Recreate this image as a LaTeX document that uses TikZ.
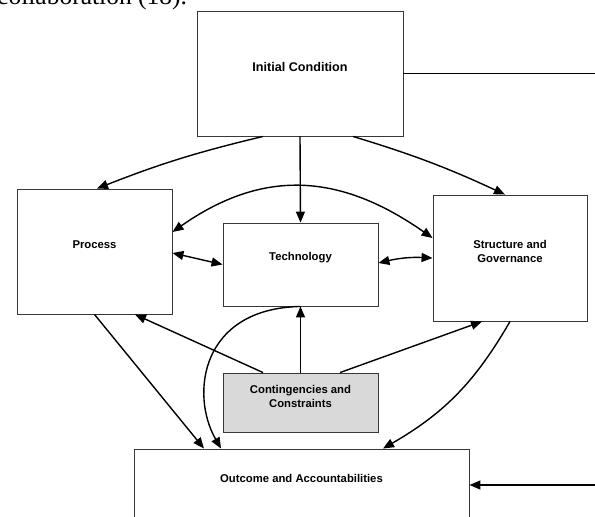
\documentclass[tikz,border=0pt]{standalone}
\usepackage{fontspec}
\setmainfont{Liberation Serif}
\newfontfamily\boxfont{Liberation Sans}
\usetikzlibrary{arrows.meta}
\usepackage{xcolor}
\definecolor{shade}{RGB}{217,217,217}
\definecolor{rim}{RGB}{55,55,55}

\begin{document}
\begin{tikzpicture}[x=1pt, y=1pt,
  blk/.style={draw=rim, line width=0.9pt, rectangle, inner sep=0pt},
  lbl/.style={font=\boxfont\bfseries\fontsize{11.3}{14}\selectfont, align=center, inner sep=0pt},
  conn/.style={black, line width=1.4pt, >={Triangle[length=11pt,width=9pt]}}]
\useasboundingbox (0,0) rectangle (595,-517);
\clip (0,0) rectangle (595,-517);
% leftover line of the page above the figure
\node[anchor=base west, font=\fontsize{25.5}{30}\selectfont, inner sep=0pt] (prev) at (-3,-4) {collaboration (18).};

% boxes
\node[blk, minimum width=206pt, minimum height=125pt,
  label={[lbl, font=\boxfont\bfseries\fontsize{12.6}{15}\selectfont, yshift=7pt]center:Initial Condition}] (ic) at (300,-73.5) {};
\node[blk, minimum width=155pt, minimum height=125pt,
  label={[lbl, yshift=7pt]center:Process}] (proc) at (94.5,-251.5) {};
\node[blk, minimum width=155pt, minimum height=83pt,
  label={[lbl, yshift=7pt]center:Technology}] (tech) at (300.5,-264.5) {};
\node[blk, minimum width=154pt, minimum height=126pt,
  label={[lbl, yshift=7pt]center:{Structure and\\Governance}}] (sg) at (510,-258) {};
\node[blk, fill=shade, minimum width=155pt, minimum height=59pt,
  label={[lbl, yshift=6.5pt]center:{Contingencies and\\Constraints}}] (cc) at (300.5,-402.5) {};
\node[blk, minimum width=335pt, minimum height=72pt,
  label={[lbl, yshift=7pt]center:Outcome and Accountabilities}] (oa) at (301.5,-485) {};

% from the initial condition
\draw[conn,->] ([xshift=-37pt]ic.south) to[bend right=4] ([xshift=2.5pt]proc.north);
\draw[conn,->] (ic.south) -- (tech.north);
\draw[conn,->] ([xshift=53pt]ic.south) to[bend left=4] ([xshift=-5pt]sg.north);
\draw[conn,->] (ic.east) -- ++(215,0) |- (oa.east);

% links between the middle boxes
\draw[conn,<->] ([yshift=19.5pt]proc.east) to[out=35, in=145, looseness=1.1] ([yshift=20pt]sg.west);
\draw[conn,<->] ([yshift=-1.5pt]proc.east) -- (tech.west);
\draw[conn,<->] ([yshift=1.5pt]tech.east) to[bend left=8] (sg.west);

% from the contingencies
\draw[conn,->] ([xshift=-37.5pt]cc.north) -- ([xshift=40.5pt]proc.south);
\draw[conn,->] (cc.north) -- (tech.south);
\draw[conn,->] ([xshift=39.5pt]cc.north) -- ([xshift=-28pt]sg.south);

% into the outcome
\draw[conn,->] (proc.south) -- ([xshift=-97.5pt]oa.north);
\draw[conn,->] (tech.south) .. controls +(-100,-2) and +(-31,54) .. ([xshift=-80.5pt]oa.north);
\draw[conn,->] (sg.south) to[bend left=15] ([xshift=81.5pt]oa.north);
\end{tikzpicture}
\end{document}
